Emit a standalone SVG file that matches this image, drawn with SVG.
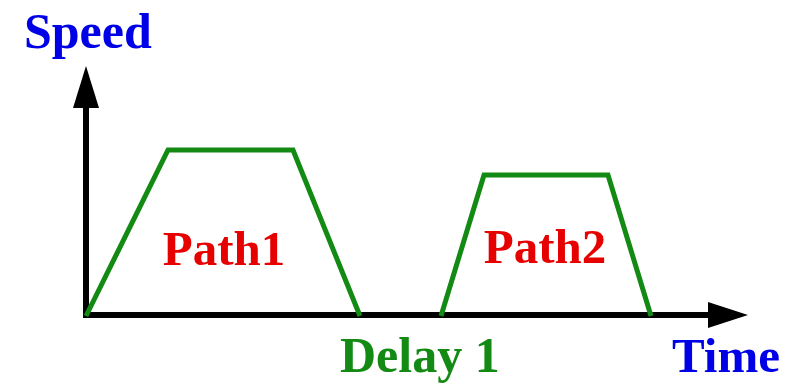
<svg xmlns="http://www.w3.org/2000/svg" width="802" height="384" viewBox="0 0 802 384">
<style>
.axis{stroke:#000;stroke-width:6;fill:none}
.head{fill:#000}
.prof{stroke:#138a13;stroke-width:5;fill:none;stroke-linejoin:miter}
.t{font-family:"Liberation Serif","Times New Roman",serif;font-weight:bold}
.blue{fill:#0000e6}
.red{fill:#e60000}
.green{fill:#138a13}
</style>
<rect width="802" height="384" fill="#fff"/>
<g id="connectors">
<line class="axis" x1="86" y1="318" x2="86" y2="100"/>
<polygon class="head" points="86,66 73,108 99,108"/>
<line class="axis" x1="83" y1="315" x2="715" y2="315"/>
<polygon class="head" points="748,315 708,302 708,328"/>
</g>
<g id="path1">
<polyline class="prof" points="86,316 168,150 293,150 360,316"/>
<text class="t red" x="224" y="265" font-size="49" text-anchor="middle">Path1</text>
</g>
<g id="path2">
<polyline class="prof" points="441,316 484,175 608,175 651,316"/>
<text class="t red" x="545" y="263" font-size="49" text-anchor="middle">Path2</text>
</g>
<g id="speed-label">
<text class="t blue" x="24" y="48" font-size="50">Speed</text>
</g>
<g id="delay-label">
<text class="t green" x="340" y="372" font-size="50">Delay 1</text>
</g>
<g id="time-label">
<text class="t blue" x="672" y="372" font-size="49">Time</text>
</g>
</svg>
